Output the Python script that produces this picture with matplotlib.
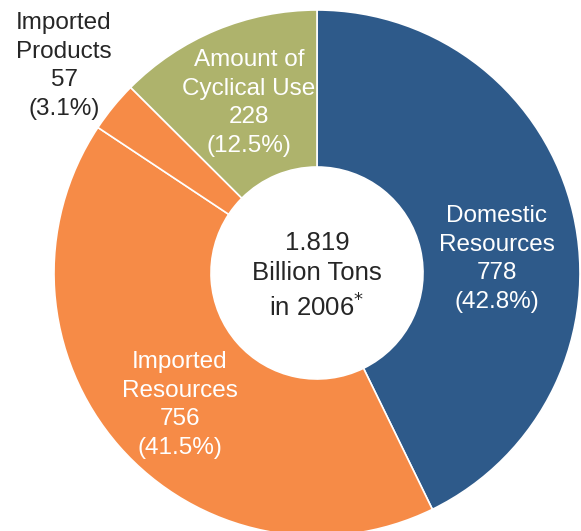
import matplotlib.pyplot as plt

plt.rcParams['font.family'] = ['Liberation Sans', 'DejaVu Sans']

names = ["Domestic\nResources", "Imported\nResources", "", "Amount of\nCyclical Use"]
values = [778, 756, 57, 228]
shares = [42.8, 41.5, 3.1, 12.5]
colors = ["#2E5A8A", "#F68B47", "#F68B47", "#AEB36C"]
total_text = "1.819\nBillion Tons\nin 2006$^{*}$"

W, H = 581, 531
fig = plt.figure(figsize=(W / 100, H / 100), dpi=100)
ax = fig.add_axes([0, 0, 1, 1])

cx, cy, R = 317, H - 273, 263
ax.pie(values, colors=colors, startangle=90, counterclock=False,
       center=(cx, cy), radius=R, frame=True,
       wedgeprops=dict(width=R - 106, edgecolor='white', linewidth=1.2))
ax.set_xlim(0, W)
ax.set_ylim(0, H)
ax.set_aspect('equal')
ax.axis('off')

fs = 17.5
ls = 1.4
# labels inside the ring
pos = [(497, H - 259), (180, H - 405), None, (249, H - 103)]
for name, v, s, p in zip(names, values, shares, pos):
    if p is None:
        continue
    ax.text(p[0], p[1], f"{name}\n{v}\n({s}%)", color='white', fontsize=fs,
            ha='center', va='center', linespacing=ls)

# small slice labelled outside
ax.text(64, H - 66, f"Imported\nProducts\n{values[2]}\n({shares[2]}%)",
        color='#262626', fontsize=fs, ha='center', va='center', linespacing=ls)

ax.text(cx, H - 276, total_text, color='#262626', fontsize=18.5,
        ha='center', va='center', linespacing=1.3)

fig.savefig("out.png", dpi=100)
